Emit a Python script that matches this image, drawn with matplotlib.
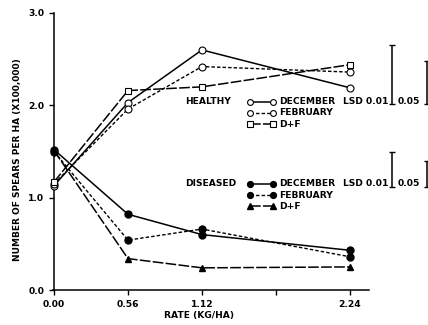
import numpy as np
import matplotlib
matplotlib.use('Agg')
import matplotlib.pyplot as plt

# data
rates = [0.00, 0.56, 1.12, 2.24]
tick_labels = ['0.00', '0.56', '1.12', '', '2.24']
tick_pos = [0.00, 0.56, 1.12, 1.68, 2.24]

healthy_dec = [1.13, 2.03, 2.60, 2.19]
healthy_feb = [1.15, 1.96, 2.42, 2.36]
healthy_df = [1.17, 2.16, 2.20, 2.44]

diseased_dec = [1.52, 0.82, 0.60, 0.43]
diseased_feb = [1.50, 0.54, 0.66, 0.36]
diseased_df = [1.51, 0.34, 0.24, 0.25]

lsd_labels = ['0.01', '0.05']
lsd_healthy = [0.64, 0.47]
lsd_diseased = [0.37, 0.28]

plt.rcParams['font.family'] = ['DejaVu Sans']
plt.rcParams['font.weight'] = 'bold'

fig = plt.figure(figsize=(4.28, 3.25), dpi=100)
ax = fig.add_axes([54 / 428, 35 / 325, 374 / 428, 277 / 325])
ax.set_xlim(0, 374 / 132.1)
ax.set_ylim(0, 3.0)

solid = dict(color='black', lw=1.1, linestyle='-')
feb = dict(color='black', lw=1.0, linestyle=(0, (2.5, 1.5)))
dfs = dict(color='black', lw=1.1, linestyle=(0, (7, 1.5)))

ms = 5.0
styles = [
    (healthy_dec, solid, dict(marker='o', mfc='white', mec='black', ms=ms, mew=0.8)),
    (healthy_feb, feb, dict(marker='o', mfc='white', mec='black', ms=ms, mew=0.8)),
    (healthy_df, dfs, dict(marker='s', mfc='white', mec='black', ms=ms, mew=0.8)),
    (diseased_dec, solid, dict(marker='o', mfc='black', mec='black', ms=ms)),
    (diseased_feb, feb, dict(marker='o', mfc='black', mec='black', ms=ms)),
    (diseased_df, dfs, dict(marker='^', mfc='black', mec='black', ms=ms)),
]
for vals, ls, mk in styles:
    ax.plot(rates, vals, clip_on=False, zorder=3, **ls, **mk)

# legends (drawn by hand)
fs = 6.6
def legend_block(label, y0, items):
    ax.text(0.99, y0, label, fontsize=fs, fontweight='bold', va='center', ha='left')
    for i, (name, ls, mk) in enumerate(items):
        yy = y0 - i * 0.122
        ax.plot([1.48, 1.66], [yy, yy], **ls, **dict(mk, ms=4.2))
        ax.text(1.705, yy, name, fontsize=fs, fontweight='bold', va='center', ha='left')

names = ['DECEMBER', 'FEBRUARY', 'D+F']
legend_block('HEALTHY', 2.04, [(names[i], styles[i][1], styles[i][2]) for i in range(3)])
legend_block('DISEASED', 1.15, [(names[i], styles[i + 3][1], styles[i + 3][2]) for i in range(3)])

# LSD bars
def lsd_block(y0, vals):
    ax.text(2.19, y0, 'LSD ' + lsd_labels[0], fontsize=fs, fontweight='bold', va='center', ha='left')
    ax.text(2.60, y0, lsd_labels[1], fontsize=fs, fontweight='bold', va='center', ha='left')
    base = y0 - 0.03
    for xb, v in zip([2.555, 2.82], vals):
        ax.errorbar([xb], [base + v / 2], yerr=[v / 2], fmt='none', ecolor='black',
                    elinewidth=1.1, capsize=2, capthick=1.0, clip_on=False)

lsd_block(2.04, lsd_healthy)
lsd_block(1.15, lsd_diseased)

for s in ['top', 'right']:
    ax.spines[s].set_visible(False)
ax.spines['bottom'].set_bounds(-0.01, 2.385)
ax.spines['left'].set_bounds(0, 3.0)
ax.spines['left'].set_linewidth(1.1)
ax.spines['bottom'].set_linewidth(1.1)

ax.set_xticks(tick_pos)
ax.set_xticklabels(tick_labels)
ax.set_yticks([0, 1, 2, 3])
ax.set_yticklabels(['0.0', '1.0', '2.0', '3.0'])
ax.tick_params(axis='both', labelsize=fs, length=3.5, width=1.0, direction='out')
ax.tick_params(axis='x', pad=4)
for lab in ax.get_xticklabels() + ax.get_yticklabels():
    lab.set_fontweight('bold')

ax.set_xlabel('RATE (KG/HA)', fontsize=fs, fontweight='bold')
ax.xaxis.set_label_coords(1.10 / (374 / 132.1), -0.075)
ax.set_ylabel('NUMBER OF SPEARS PER HA (X100,000)', fontsize=6.5, fontweight='bold')
ax.yaxis.set_label_coords(-0.085, 0.47)

fig.savefig('out.png', dpi=100)
